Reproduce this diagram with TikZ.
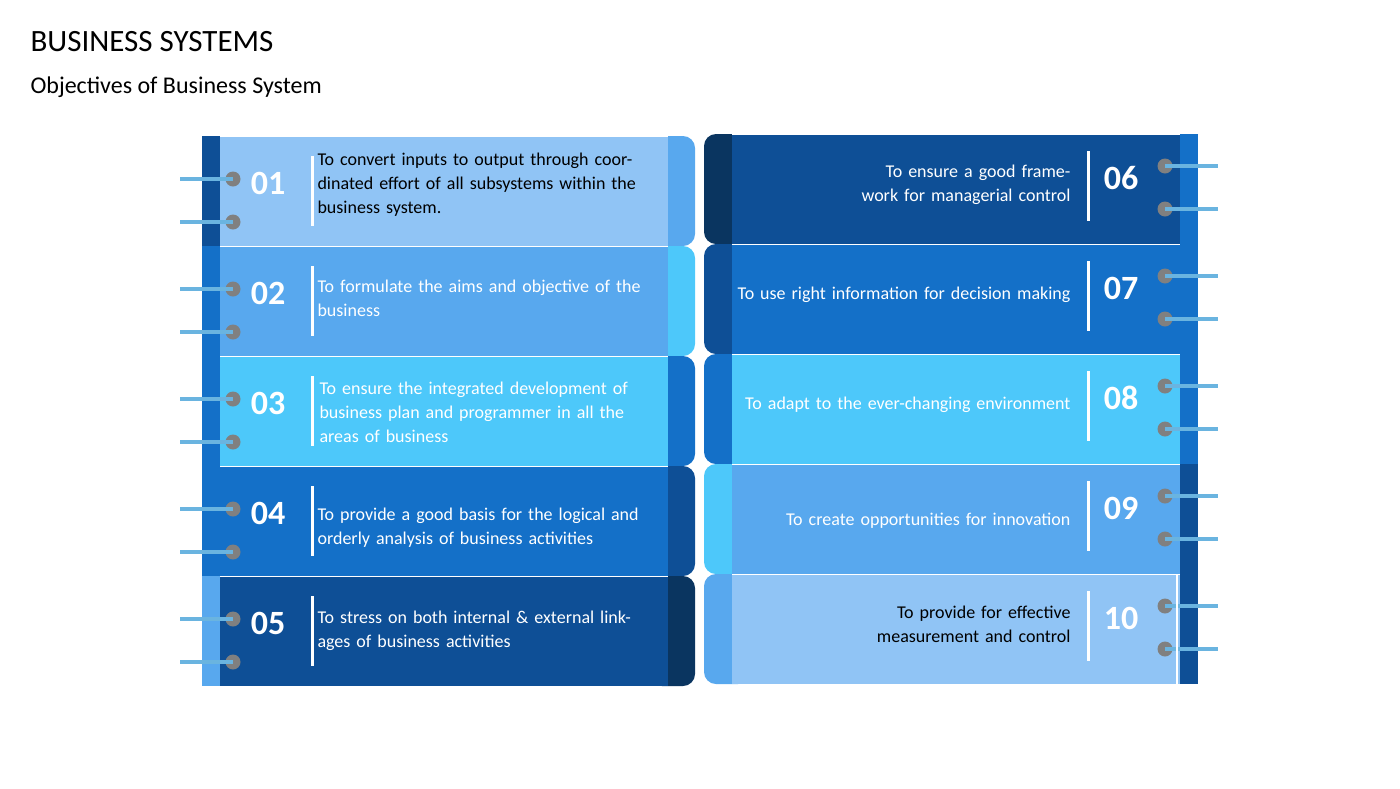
\documentclass[tikz,border=0pt]{standalone}
\usepackage{fontspec}
\setmainfont{Carlito}
\definecolor{cA}{HTML}{90C4F5}
\definecolor{cB}{HTML}{58A8EE}
\definecolor{cC}{HTML}{4DC8FA}
\definecolor{cD}{HTML}{1470C8}
\definecolor{cE}{HTML}{0E4F96}
\definecolor{cF}{HTML}{0A3560}
\definecolor{ring}{HTML}{808080}
\definecolor{wire}{HTML}{6AB4E0}
\begin{document}
\begin{tikzpicture}[x=1pt,y=-1pt,
  num/.style={font=\bfseries\fontsize{34}{34}\selectfont,text=white},
  txtL/.style={font=\fontsize{18}{24}\selectfont,align=left,anchor=west,text width=340pt},
  txtR/.style={font=\fontsize{18}{24}\selectfont,align=right,anchor=east,text width=340pt},
  ringc/.style={circle,fill=ring,minimum size=15pt,inner sep=0pt},
  wirel/.style={wire,line width=3.5pt}]
\useasboundingbox (0,0) rectangle (1400,788);
\fill[white] (0,0) rectangle (1400,788);
\node[anchor=west,font=\fontsize{31}{31}\selectfont] (title) at (27,42) {BUSINESS SYSTEMS};
\node[anchor=west,font=\fontsize{24}{24}\selectfont] (sub) at (27,87) {Objectives of Business System};
% left panel
\foreach \i/\m/\t/\s/\n/\tc [count=\k from 0] in {
 1/cA/cB/cE/01/black, 2/cB/cC/cD/02/white, 3/cC/cD/cD/03/white, 4/cD/cE/cD/04/white, 5/cE/cF/cB/05/white}{
  \pgfmathsetmacro\yt{136+110*\k}
  \fill[\t,rounded corners=12pt] (650,\yt) rectangle (695,\yt+110);
  \fill[\m] (220,\yt) rectangle (668,\yt+110);
  \fill[\s] (202,\yt) rectangle (220,\yt+110);
  \draw[white,line width=1pt] (220,\yt) -- (668,\yt);
  \draw[white,line width=3pt] (312,\yt+20) -- (312,\yt+90);
  \node[num] (nL\n) at (268,\yt+47) {\n};
  \node[ringc] (ra\n) at (233,\yt+43) {};
  \node[ringc] (rb\n) at (233,\yt+86) {};
  \coordinate (wa\n) at (180,\yt+43);
  \coordinate (wb\n) at (180,\yt+86);
  \draw[wirel] (wa\n) -- (ra\n.center);
  \draw[wirel] (wb\n) -- (rb\n.center);
}
\node[txtL,text=black] (t01) at (314,185) {To convert inputs to output through coordinated effort of all subsystems within the business system.};
\node[txtL,text=white] (t02) at (314,298) {To formulate the aims and objective of the business};
\node[txtL,text=white] (t03) at (316,412) {To ensure the integrated development of business plan and programmer in all the areas of business};
\node[txtL,text=white] (t04) at (314,528) {To provide a good basis for the logical and orderly analysis of business activities};
\node[txtL,text=white] (t05) at (314,631) {To stress on both internal \& external linkages of business activities};
% right panel
\foreach \n/\m/\t/\s [count=\k from 0] in {
 06/cE/cF/cD, 07/cD/cE/cD, 08/cC/cD/cD, 09/cB/cC/cE, 10/cA/cB/cE}{
  \pgfmathsetmacro\yt{134+110*\k}
  \fill[\t,rounded corners=12pt] (704,\yt) rectangle (750,\yt+110);
  \fill[\m] (732,\yt) rectangle (1180,\yt+110);
  \fill[\s] (1180,\yt) rectangle (1198,\yt+110);
  \draw[white,line width=1pt] (732,\yt) -- (1180,\yt);
  \draw[white,line width=3pt] (1088,\yt+17) -- (1088,\yt+87);
  \node[num] (nR\n) at (1121,\yt+44) {\n};
  \node[ringc] (rc\n) at (1165,\yt+32) {};
  \node[ringc] (rd\n) at (1165,\yt+75) {};
  \coordinate (wc\n) at (1218,\yt+32);
  \coordinate (wd\n) at (1218,\yt+75);
  \draw[wirel] (rc\n.center) -- (wc\n);
  \draw[wirel] (rd\n.center) -- (wd\n);
}
\fill[cF] (1198,134) rectangle (1198,134);
\draw[white,line width=2pt] (1177,574) -- (1177,684);
\node[txtR,text=white] (t06) at (1074,185) {To ensure a good framework for managerial control};
\node[txtR,text=white] (t07) at (1074,295) {To use right information for decision making};
\node[txtR,text=white] (t08) at (1074,405) {To adapt to the ever-changing environment};
\node[txtR,text=white] (t09) at (1074,521) {To create opportunities for innovation};
\node[txtR,text=black] (t10) at (1074,624) {To provide for effective measurement and control};
\end{tikzpicture}
\end{document}
